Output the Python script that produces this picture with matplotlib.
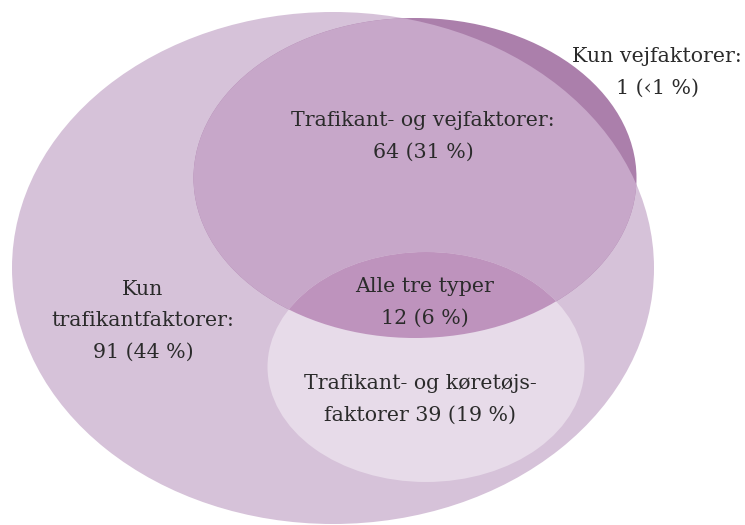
import matplotlib.pyplot as plt
from matplotlib.patches import Ellipse

# region labels and counts (n = 207)
regions = ["Kun\ntrafikantfaktorer:", "Trafikant- og vejfaktorer:", "Kun vejfaktorer:",
           "Alle tre typer", "Trafikant- og køretøjs-\nfaktorer"]
counts = [91, 64, 1, 12, 39]
pcts = ["44 %", "31 %", "‹1 %", "6 %", "19 %"]

# ellipses in pixel coords: (cx, cy, width, height)
trafikant = (333, 268, 642, 512)
vej = (415, 178, 443, 320)
koretoj = (426, 367, 317, 230)

fig = plt.figure(figsize=(7.45, 5.25), dpi=100)
ax = fig.add_axes([0, 0, 1, 1])
ax.set_xlim(0, 745)
ax.set_ylim(525, 0)
ax.axis("off")

def ell(e, color, clip=None):
    p = Ellipse((e[0], e[1]), e[2], e[3], facecolor=color, edgecolor="none")
    ax.add_patch(p)
    if clip is not None:
        p.set_clip_path(clip)
    return p

big = ell(trafikant, "#d6c2d9")
ell(vej, "#ab7fab")
ell(vej, "#c7a7c9", clip=big)
kor = ell(koretoj, "#e7dbe9")
tri = ell(vej, "#be93bd", clip=kor)

txt = dict(ha="center", va="center", fontsize=14.8, color="#2b2b2b",
           family="DejaVu Serif", linespacing=1.85)
ax.text(143, 321, f"{regions[0]}\n{counts[0]} ({pcts[0]})", **txt)
ax.text(423, 136, f"{regions[1]}\n{counts[1]} ({pcts[1]})", **txt)
ax.text(657, 72, f"{regions[2]}\n{counts[2]} ({pcts[2]})", **txt)
ax.text(425, 302, f"{regions[3]}\n{counts[3]} ({pcts[3]})", **txt)
ax.text(420, 399, regions[4].replace("faktorer", f"faktorer {counts[4]} ({pcts[4]})"), **txt)

plt.savefig("out.png", dpi=100)
